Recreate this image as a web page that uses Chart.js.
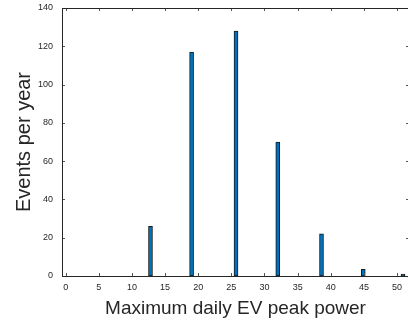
<!DOCTYPE html>
<html>
<head>
<meta charset="utf-8">
<script src="https://cdn.jsdelivr.net/npm/chart.js@4"></script>
<style>
  html, body { margin: 0; padding: 0; background: #fff; }
  #wrap { width: 408px; height: 325px; overflow: hidden; }
</style>
</head>
<body>
<div id="wrap"><canvas id="peakPower" width="412" height="325"></canvas></div>
<script>
// histogram bins (x) and counts (y)
const binCenters = [12.8, 19.0, 25.7, 32.0, 38.6, 44.9, 50.9]
const eventsPerYear = [26, 117, 128, 70, 22, 3.5, 1]
const xTickValues = [0, 5, 10, 15, 20, 25, 30, 35, 40, 45, 50]
const yTickValues = [0, 20, 40, 60, 80, 100, 120, 140]

const axisColor = '#262626'
const fontFamily = "'Liberation Sans', Arial, sans-serif"

// matlab style: box around the axes, ticks pointing inward
const matlabBox = {
  id: 'matlabBox',
  afterDatasetsDraw(chart) {
    const { ctx, chartArea: a, scales: { x, y } } = chart
    const len = 3
    ctx.save()
    ctx.strokeStyle = '#555'
    ctx.lineWidth = 1
    ctx.beginPath()
    x.ticks.forEach(t => {
      const px = Math.round(x.getPixelForValue(t.value)) + 0.5
      ctx.moveTo(px, a.bottom); ctx.lineTo(px, a.bottom - len)
      ctx.moveTo(px, a.top); ctx.lineTo(px, a.top + len)
    })
    y.ticks.forEach(t => {
      const py = Math.round(y.getPixelForValue(t.value)) + 0.5
      ctx.moveTo(a.left, py); ctx.lineTo(a.left + len, py)
      ctx.moveTo(a.right, py); ctx.lineTo(a.right - len, py)
    })
    ctx.stroke()
    ctx.strokeStyle = axisColor
    ctx.strokeRect(Math.round(a.left) + 0.5, Math.round(a.top) + 0.5,
      Math.round(a.right - a.left), Math.round(a.bottom - a.top))
    ctx.restore()
  }
}

const ctx = document.getElementById('peakPower').getContext('2d')
new Chart(ctx, {
  type: 'bar',
  data: {
    datasets: [{
      data: binCenters.map((v, i) => ({ x: v, y: eventsPerYear[i] })),
      backgroundColor: '#0072BD',
      borderColor: '#1a1a1a',
      borderWidth: 1,
      borderSkipped: false,
      barThickness: 4
    }]
  },
  options: {
    responsive: false,
    animation: false,
    devicePixelRatio: 1,
    layout: { padding: { top: 8, right: 3, left: 0, bottom: 0 } },
    plugins: { legend: { display: false }, tooltip: { enabled: false } },
    scales: {
      x: {
        type: 'linear',
        offset: false,
        min: -0.55,
        max: 51.8,
        grid: { display: false, drawTicks: false, offset: false },
        border: { display: false },
        afterBuildTicks: s => { s.ticks = xTickValues.map(v => ({ value: v })) },
        afterFit: s => { s.height = 49; s.paddingLeft = 0; s.paddingRight = 0 },
        ticks: {
          color: axisColor,
          padding: 6,
          maxRotation: 0,
          font: { family: fontFamily, size: 9 }
        },
        title: {
          display: true,
          text: 'Maximum daily EV peak power',
          color: axisColor,
          font: { family: fontFamily, size: 19 },
          padding: { top: 0, bottom: 5 }
        }
      },
      y: {
        min: 0,
        max: 140,
        grid: { display: false, drawTicks: false },
        border: { display: false },
        afterBuildTicks: s => { s.ticks = yTickValues.map(v => ({ value: v })) },
        afterFit: s => { s.width = 62; s.paddingTop = 0; s.paddingBottom = 0 },
        ticks: {
          color: axisColor,
          padding: 9,
          font: { family: fontFamily, size: 9 }
        },
        title: {
          display: true,
          text: 'Events per year',
          color: axisColor,
          font: { family: fontFamily, size: 20 },
          padding: { top: 12, bottom: 0 }
        }
      }
    }
  },
  plugins: [matlabBox]
})
</script>
</body>
</html>
